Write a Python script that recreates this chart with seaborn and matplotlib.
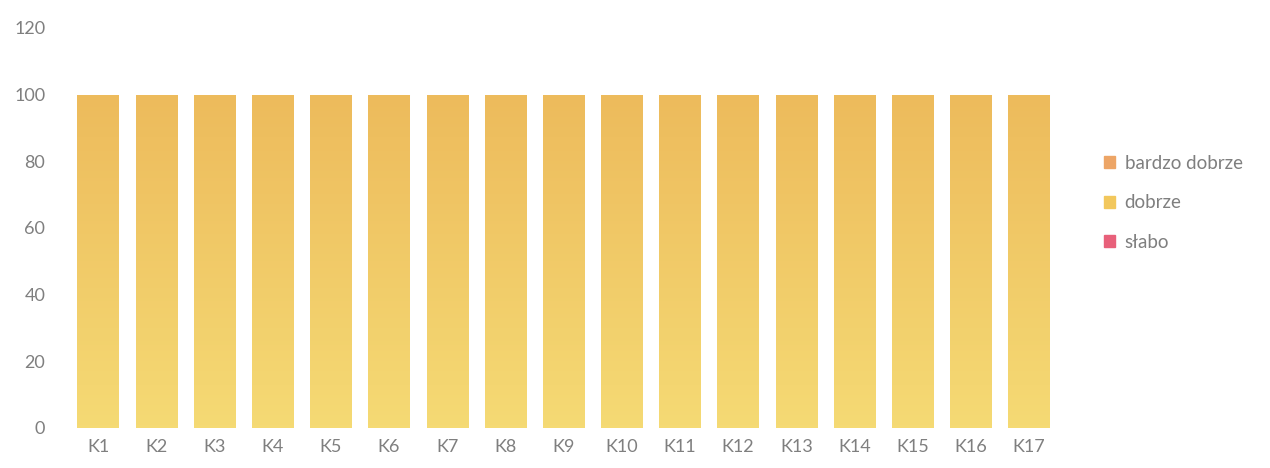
import numpy as np
import pandas as pd
import matplotlib
matplotlib.use("Agg")
import matplotlib.pyplot as plt
from matplotlib.patches import Patch
from matplotlib.colors import LinearSegmentedColormap
import seaborn as sns

# Data
categories = [f"K{i}" for i in range(1, 18)]
slabo = [0] * 17
dobrze = [100] * 17
bardzo_dobrze = [0] * 17

series_names = ["słabo", "dobrze", "bardzo dobrze"]
series_values = [slabo, dobrze, bardzo_dobrze]
colors = {"bardzo dobrze": "#EDA566", "dobrze": "#F2C75C", "słabo": "#E8607A"}

sns.set_theme(style="white")
plt.rcParams["font.family"] = ["Lato", "DejaVu Sans"]

fig = plt.figure(figsize=(12.7, 4.68), dpi=100)
ax = fig.add_axes([0.052, 0.0855, 0.7835, 0.855])

bottom = np.zeros(len(categories))
for name, vals in zip(series_names, series_values):
    df = pd.DataFrame({"cat": categories, "val": vals})
    sns.barplot(data=df, x="cat", y="val", color=colors[name], width=0.71,
                bottom=bottom, ax=ax, saturation=1, errorbar=None)
    bottom = bottom + np.array(vals)

# gradient fill (orange top -> yellow bottom), clipped to each bar
grad = LinearSegmentedColormap.from_list("g", ["#F5DA74", "#EDBB5C"])
for p in ax.patches:
    if p.get_height() <= 0:
        continue
    x0, y0 = p.get_x(), p.get_y()
    w, h = p.get_width(), p.get_height()
    im = ax.imshow(np.linspace(0, 1, 100).reshape(-1, 1), cmap=grad,
                   extent=[x0, x0 + w, y0, y0 + h], origin="lower",
                   aspect="auto", zorder=p.get_zorder() + 0.1)
    im.set_clip_path(p)

ax.set_xlim(-0.55, len(categories) - 0.45)
ax.set_ylim(0, 120)
ax.set_yticks(range(0, 121, 20))
ax.set_xlabel("")
ax.set_ylabel("")
for s in ax.spines.values():
    s.set_visible(False)
ax.tick_params(axis="both", length=0, labelsize=13, colors="#7F7F7F", pad=8)
ax.tick_params(axis="y", pad=15)

handles = [Patch(color=colors[n]) for n in ["bardzo dobrze", "dobrze", "słabo"]]
fig.legend(handles, ["bardzo dobrze", "dobrze", "słabo"], loc="upper left",
           bbox_to_anchor=(0.856, 0.705), frameon=False, fontsize=13.5,
           labelcolor="#7F7F7F", handlelength=0.6, handleheight=0.6,
           handletextpad=0.5, labelspacing=1.2)

fig.savefig("out.png", dpi=100, facecolor="white")
